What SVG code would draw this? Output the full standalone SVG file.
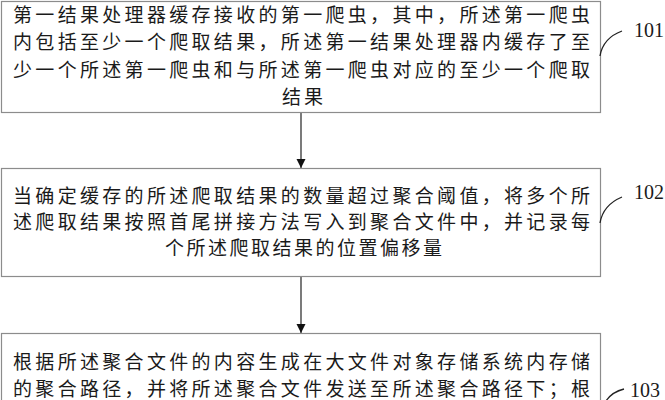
<svg xmlns="http://www.w3.org/2000/svg" width="665" height="400" viewBox="0 0 665 400">
<style>
.box{fill:#fff;stroke:#8c8c8c;stroke-width:1.2}
.t{font-family:"Noto Sans CJK SC","Noto Sans CJK JP",sans-serif;font-size:19px;fill:#1a1a1a}
.lbl{font-family:"Liberation Serif","Times New Roman",serif;font-size:20px;fill:#1a1a1a}
.lead{fill:none;stroke:#222;stroke-width:1.3}
.conn{stroke:#333;stroke-width:1.3;fill:none}
</style>
<defs>
<marker id="arr" viewBox="0 0 10 10" refX="10" refY="5" markerWidth="9" markerHeight="11" markerUnits="userSpaceOnUse" orient="auto">
<path d="M0,0 L10,5 L0,10 Z" fill="#111"/>
</marker>
</defs>
<rect width="665" height="400" fill="#fff"/>
<g id="connectors">
<line class="conn" x1="301" y1="113" x2="301" y2="168" marker-end="url(#arr)"/>
<line class="conn" x1="301" y1="277" x2="301" y2="333" marker-end="url(#arr)"/>
</g>
<g id="node101">
<rect class="box" x="1.5" y="1.5" width="599" height="111"/>
<text class="t" x="13" y="21.5" textLength="577" lengthAdjust="spacing">第一结果处理器缓存接收的第一爬虫，其中，所述第一爬虫</text>
<text class="t" x="13" y="49" textLength="577" lengthAdjust="spacing">内包括至少一个爬取结果，所述第一结果处理器内缓存了至</text>
<text class="t" x="13" y="76.5" textLength="577" lengthAdjust="spacing">少一个所述第一爬虫和与所述第一爬虫对应的至少一个爬取</text>
<text class="t" x="282" y="104" textLength="41" lengthAdjust="spacing">结果</text>
<path class="lead" d="M600,56 Q603,38 622,31"/>
<text class="lbl" x="634" y="37">101</text>
</g>
<g id="node102">
<rect class="box" x="1.5" y="168.5" width="599" height="108"/>
<text class="t" x="13" y="203" textLength="577" lengthAdjust="spacing">当确定缓存的所述爬取结果的数量超过聚合阈值，将多个所</text>
<text class="t" x="13" y="229" textLength="577" lengthAdjust="spacing">述爬取结果按照首尾拼接方法写入到聚合文件中，并记录每</text>
<text class="t" x="165" y="255" textLength="277" lengthAdjust="spacing">个所述爬取结果的位置偏移量</text>
<path class="lead" d="M600,223 Q603,205 622,197"/>
<text class="lbl" x="634" y="199">102</text>
</g>
<g id="node103">
<rect class="box" x="1.5" y="333.5" width="599" height="80"/>
<text class="t" x="13" y="368.5" textLength="577" lengthAdjust="spacing">根据所述聚合文件的内容生成在大文件对象存储系统内存储</text>
<text class="t" x="13" y="396" textLength="577" lengthAdjust="spacing">的聚合路径，并将所述聚合文件发送至所述聚合路径下；根</text>
<path class="lead" d="M606,401 Q612,392 624,389"/>
<text class="lbl" x="630" y="397">103</text>
</g>
</svg>
